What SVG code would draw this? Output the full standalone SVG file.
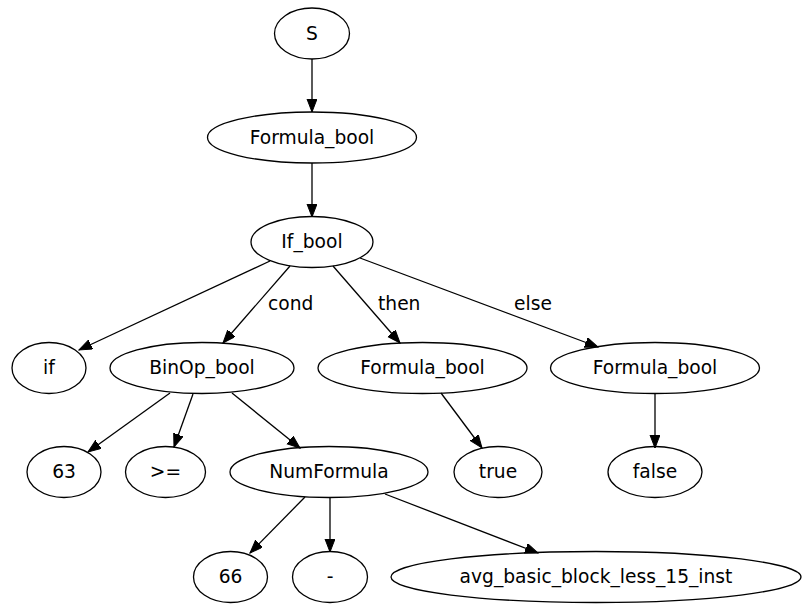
<svg xmlns="http://www.w3.org/2000/svg" width="803" height="604" viewBox="0 0 803 604">
<defs>
<marker id="ah" markerUnits="userSpaceOnUse" markerWidth="14" markerHeight="11" refX="13" refY="5" orient="auto">
<path d="M0,0 L13,5 L0,10 z" fill="#000" stroke="#000" stroke-width="1"/>
</marker>
<style>
ellipse{fill:none;stroke:#000;stroke-width:1.3}
text{font-family:"DejaVu Sans",sans-serif;font-size:18.67px;fill:#000;text-anchor:middle}
.e line{stroke:#000;stroke-width:1.3;marker-end:url(#ah)}
.lbl{text-anchor:start}
</style>
</defs>
<rect width="803" height="604" fill="#fff"/>
<g class="e" id="edges">
<line x1="312" y1="59" x2="312" y2="112"/>
<line x1="312" y1="163" x2="312" y2="217"/>
<line x1="270" y1="261" x2="79" y2="350"/>
<line x1="290" y1="266" x2="223" y2="343"/>
<line x1="333" y1="266" x2="400" y2="343"/>
<line x1="360" y1="258" x2="598" y2="347"/>
<line x1="170" y1="393" x2="88" y2="452"/>
<line x1="193" y1="394" x2="174" y2="447"/>
<line x1="232" y1="393" x2="300" y2="448"/>
<line x1="441" y1="393" x2="482" y2="448"/>
<line x1="655" y1="393" x2="655" y2="448"/>
<line x1="305" y1="497" x2="250" y2="553"/>
<line x1="330" y1="498" x2="330" y2="552"/>
<line x1="385" y1="494" x2="538" y2="553"/>
<text class="lbl" x="268" y="310">cond</text>
<text class="lbl" x="378" y="310">then</text>
<text class="lbl" x="514" y="310">else</text>
</g>
<g id="n_S"><ellipse cx="312" cy="33.5" rx="37.5" ry="25.5"/><text x="312" y="39.5">S</text></g>
<g id="n_F0"><ellipse cx="312" cy="137.5" rx="104.5" ry="25.5"/><text x="312" y="143.5">Formula_bool</text></g>
<g id="n_If"><ellipse cx="312" cy="242" rx="61" ry="25.5"/><text x="312" y="248">If_bool</text></g>
<g id="n_if"><ellipse cx="49" cy="368" rx="37" ry="25.5"/><text x="49" y="374">if</text></g>
<g id="n_BinOp"><ellipse cx="202" cy="368" rx="92" ry="25.5"/><text x="202" y="374">BinOp_bool</text></g>
<g id="n_Fthen"><ellipse cx="422.5" cy="368" rx="104.5" ry="25.5"/><text x="422.5" y="374">Formula_bool</text></g>
<g id="n_Felse"><ellipse cx="655" cy="368" rx="104.5" ry="25.5"/><text x="655" y="374">Formula_bool</text></g>
<g id="n_63"><ellipse cx="64" cy="472" rx="37" ry="25.5"/><text x="64" y="478">63</text></g>
<g id="n_ge"><ellipse cx="165.5" cy="472" rx="40" ry="25.5"/><text x="165.5" y="478">&gt;=</text></g>
<g id="n_Num"><ellipse cx="329" cy="472" rx="99" ry="25.5"/><text x="329" y="478">NumFormula</text></g>
<g id="n_true"><ellipse cx="498" cy="472" rx="44" ry="25.5"/><text x="498" y="478">true</text></g>
<g id="n_false"><ellipse cx="655" cy="472" rx="47" ry="25.5"/><text x="655" y="478">false</text></g>
<g id="n_66"><ellipse cx="230.5" cy="577" rx="37" ry="25.5"/><text x="230.5" y="583">66</text></g>
<g id="n_minus"><ellipse cx="330" cy="577" rx="37.5" ry="25.5"/><text x="330" y="583">-</text></g>
<g id="n_avg"><ellipse cx="596" cy="577" rx="205" ry="25.5"/><text x="596" y="583">avg_basic_block_less_15_inst</text></g>
</svg>
